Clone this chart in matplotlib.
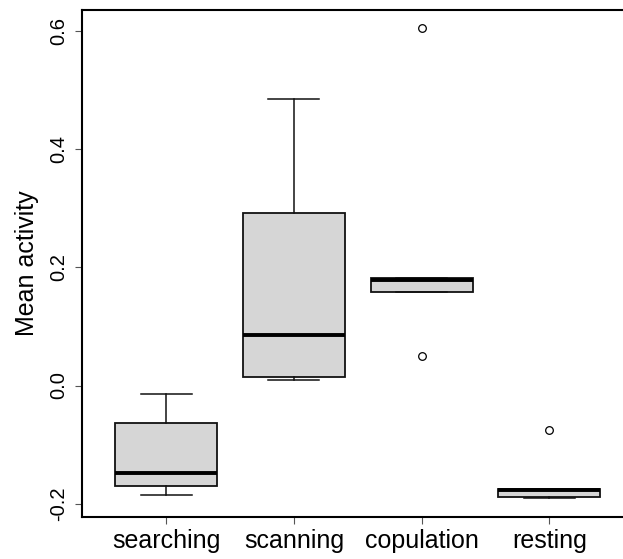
import numpy as np
import matplotlib
matplotlib.use("Agg")
import matplotlib.pyplot as plt

# -----------------------------------------------------------------------------
# Box statistics
# -----------------------------------------------------------------------------
behaviours = ["searching", "scanning", "copulation", "resting"]
whisker_low = [-0.186, 0.010, 0.158, -0.190]
q1 = [-0.170, 0.014, 0.158, -0.188]
median = [-0.148, 0.085, 0.178, -0.177]
q3 = [-0.064, 0.293, 0.182, -0.175]
whisker_high = [-0.014, 0.486, 0.182, -0.175]
outliers = [[], [], [0.050, 0.605], [-0.075]]

y_ticks = [-0.2, 0.0, 0.2, 0.4, 0.6]

stats = []
for i, name in enumerate(behaviours):
    stats.append(dict(label=name, whislo=whisker_low[i], q1=q1[i], med=median[i],
                      q3=q3[i], whishi=whisker_high[i], fliers=outliers[i]))

plt.rcParams["font.family"] = ["Liberation Sans", "DejaVu Sans"]

W, H = 623, 559
fig = plt.figure(figsize=(W / 100, H / 100), dpi=100)

# axis box in pixels (right side runs past the image edge, like the original)
left, right, top, bottom = 82, 633.5, 9.5, 516.5
ax = fig.add_axes([left / W, 1 - bottom / H, (right - left) / W, (bottom - top) / H])

ax.bxp(stats, positions=[1, 2, 3, 4], widths=0.8, patch_artist=True,
       boxprops=dict(facecolor="#D6D6D6", edgecolor="#111111", linewidth=1.3),
       medianprops=dict(color="black", linewidth=2.8, solid_capstyle="butt"),
       whiskerprops=dict(color="#111111", linewidth=1.1),
       capprops=dict(color="#111111", linewidth=1.1),
       flierprops=dict(marker="o", markersize=5.5, markerfacecolor="none",
                       markeredgecolor="black", markeredgewidth=0.9),
       capwidths=0.4)

ax.set_xlim(0.34, 4.66)
ax.set_ylim(-0.2218, 0.6368)

ax.set_yticks(y_ticks)
ax.set_yticklabels([f"{t:.1f}" for t in y_ticks], rotation=90, va="center", fontsize=14.5)
ax.set_xticks([1, 2, 3, 4])
ax.set_xticklabels(behaviours, fontsize=18)
ax.tick_params(axis="both", direction="out", length=5, width=0.8, color="#555555")
ax.tick_params(axis="y", pad=5)
ax.tick_params(axis="x", pad=4)

for side in ax.spines.values():
    side.set_linewidth(1.5)

ax.set_ylabel("Mean activity", fontsize=18, labelpad=7)

fig.savefig("out.png", dpi=100)
